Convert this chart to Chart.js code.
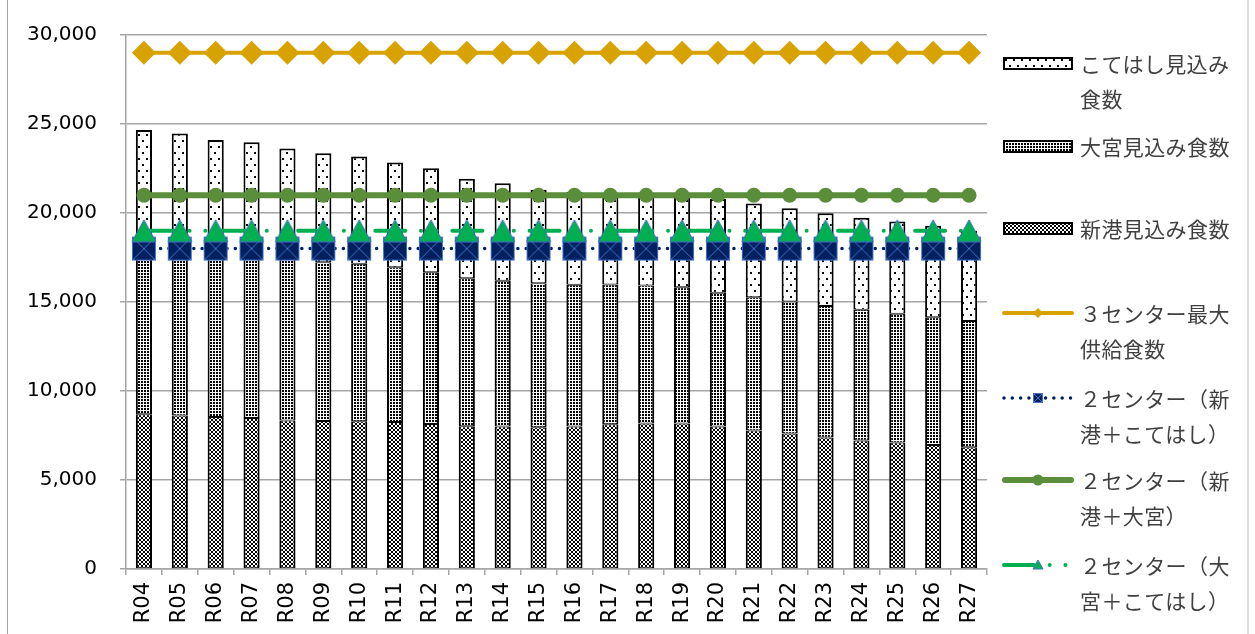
<!DOCTYPE html>
<html lang="ja">
<head>
<meta charset="utf-8">
<title>見込み食数と供給食数</title>
<script src="https://cdn.jsdelivr.net/npm/chart.js@4.4.1/dist/chart.umd.min.js"></script>
<style>
  html, body { margin: 0; padding: 0; background: #fff; }
  #wrap { position: relative; width: 1255px; height: 634px; overflow: hidden; }
  #chart { position: absolute; left: 0; top: 0; }
  .frame { position: absolute; left: 7px; top: -4px; width: 1242px; height: 644px;
           border-left: 1.5px solid #a6a6a6; border-right: 2px solid #dedede; box-sizing: border-box; pointer-events: none; }
  .lg-text { position: absolute; left: 1080px; height: 30px; line-height: 30px; font-family: "Noto Sans CJK JP", sans-serif;
             font-size: 21px; letter-spacing: 0.4px; color: #404040; white-space: nowrap; }
  .lg-swatch { position: absolute; }
</style>
</head>
<body>
<div id="wrap">
  <canvas id="chart" width="1255" height="634"></canvas>
  <div class="frame"></div>
  <div id="legend"></div>
</div>
<script>
// Fiscal years
const categories = ['R04','R05','R06','R07','R08','R09','R10','R11','R12','R13','R14','R15',
                    'R16','R17','R18','R19','R20','R21','R22','R23','R24','R25','R26','R27'];

// Expected meals per centre (stacked bars, bottom to top)
const shinkoMeals    = [8690,8620,8540,8490,8340,8320,8300,8260,8150,8020,8000,7960,
                        8000,8130,8170,8170,8000,7780,7610,7390,7220,7110,6970,6840];
const omiyaMeals     = [9110,9080,9060,9010,9060,8920,8850,8690,8520,8320,8190,8100,
                        7970,7850,7760,7660,7520,7490,7420,7380,7350,7230,7180,7090];
const kotehashiMeals = [6860,6770,6500,6470,6230,6110,6030,5890,5840,5590,5480,5250,
                        5230,5120,5070,5120,5270,5260,5230,5210,5170,5180,5140,5070];

// Maximum supply capacity of centre combinations
const supplyThreeCentres     = [29000,29000,29000,29000,29000,29000,29000,29000,29000,29000,29000,29000,
                                29000,29000,29000,29000,29000,29000,29000,29000,29000,29000,29000,29000];
const supplyShinkoKotehashi  = [18000,18000,18000,18000,18000,18000,18000,18000,18000,18000,18000,18000,
                                18000,18000,18000,18000,18000,18000,18000,18000,18000,18000,18000,18000];
const supplyShinkoOmiya      = [21000,21000,21000,21000,21000,21000,21000,21000,21000,21000,21000,21000,
                                21000,21000,21000,21000,21000,21000,21000,21000,21000,21000,21000,21000];
const supplyOmiyaKotehashi   = [19000,19000,19000,19000,19000,19000,19000,19000,19000,19000,19000,19000,
                                19000,19000,19000,19000,19000,19000,19000,19000,19000,19000,19000,19000];

const yTicks = [0, 5000, 10000, 15000, 20000, 25000, 30000];

const seriesLabels = {
  kotehashi: 'こてはし見込み食数',
  omiya: '大宮見込み食数',
  shinko: '新港見込み食数',
  three: '３センター最大供給食数',
  shinkoKotehashi: '２センター（新港＋こてはし）',
  shinkoOmiya: '２センター（新港＋大宮）',
  omiyaKotehashi: '２センター（大宮＋こてはし）'
};

const GOLD = '#d8a200', NAVY = '#002060', OLIVE = '#5b8e3b', GREEN = '#00b050', EDGE = '#4472c4';

// ---- fill patterns for the bars ----
function tile(w, h, pixels) {
  const c = document.createElement('canvas');
  c.width = w; c.height = h;
  const g = c.getContext('2d');
  g.fillStyle = '#fff'; g.fillRect(0, 0, w, h);
  g.fillStyle = '#000';
  pixels.forEach(([x, y, pw, ph]) => g.fillRect(x, y, pw || 1, ph || 1));
  return c;
}
const sparseTile = tile(8, 12, [[2, 2, 2, 2], [6, 8, 2, 2]]);
const denseTile  = tile(3, 3, [[0, 0, 2, 2]]);
const latticeTile = tile(4, 4, [[0,0],[1,1],[2,2],[3,3],[3,0],[2,1],[1,2],[0,3]]);
const patternCtx = document.createElement('canvas').getContext('2d');
const sparseFill  = patternCtx.createPattern(sparseTile, 'repeat');
const denseFill   = patternCtx.createPattern(denseTile, 'repeat');
const latticeFill = patternCtx.createPattern(latticeTile, 'repeat');

// ---- marker images ----
function squareX(size) {
  const c = document.createElement('canvas');
  c.width = size + 2; c.height = size + 2;
  const g = c.getContext('2d');
  g.fillStyle = NAVY; g.fillRect(1, 1, size, size);
  g.strokeStyle = EDGE; g.lineWidth = 1;
  g.strokeRect(1.5, 1.5, size - 1, size - 1);
  g.beginPath();
  g.moveTo(2, 2); g.lineTo(size, size);
  g.moveTo(size, 2); g.lineTo(2, size);
  g.stroke();
  return c;
}
function triangle(w, h) {
  const c = document.createElement('canvas');
  c.width = w + 2; c.height = h + 2;
  const g = c.getContext('2d');
  g.beginPath();
  g.moveTo(1 + w / 2, 1); g.lineTo(1 + w, 1 + h); g.lineTo(1, 1 + h); g.closePath();
  g.fillStyle = GREEN; g.fill();
  g.strokeStyle = EDGE; g.lineWidth = 1; g.stroke();
  return c;
}
const squareMarker = squareX(24);
const triangleMarker = triangle(24, 22);

const triDash = [30, 15.7, 0.01, 15.7, 0.01, 15.7];
const dotDash = [0.01, 8.3];

const barCommon = { type: 'bar', stack: 'meals', borderColor: '#000', borderSkipped: false,
                    barPercentage: 0.45, categoryPercentage: 1, order: 10 };

new Chart(document.getElementById('chart'), {
  data: {
    labels: categories,
    datasets: [
      Object.assign({}, barCommon, { label: seriesLabels.shinko, data: shinkoMeals, backgroundColor: latticeFill,
        borderWidth: { left: 2, right: 2, top: 1, bottom: 1 } }),
      Object.assign({}, barCommon, { label: seriesLabels.omiya, data: omiyaMeals, backgroundColor: denseFill,
        borderWidth: { left: 2, right: 2, top: 1, bottom: 1 } }),
      Object.assign({}, barCommon, { label: seriesLabels.kotehashi, data: kotehashiMeals, backgroundColor: sparseFill,
        borderWidth: { left: 2, right: 2, top: 2, bottom: 1 } }),
      { type: 'line', label: seriesLabels.three, data: supplyThreeCentres, stack: 's3', order: 3,
        borderColor: GOLD, borderWidth: 4, pointStyle: 'rectRot', pointRadius: 12,
        pointBackgroundColor: GOLD, pointBorderWidth: 0, fill: false },
      { type: 'line', label: seriesLabels.shinkoOmiya, data: supplyShinkoOmiya, stack: 's2a', order: 2,
        borderColor: OLIVE, borderWidth: 6, pointStyle: 'circle', pointRadius: 7.5,
        pointBackgroundColor: OLIVE, pointBorderWidth: 0, fill: false },
      { type: 'line', label: seriesLabels.shinkoKotehashi, data: supplyShinkoKotehashi, stack: 's2b', order: 1,
        borderColor: NAVY, borderWidth: 3.5, borderDash: dotDash, borderCapStyle: 'round',
        pointStyle: squareMarker, pointRadius: 12, fill: false },
      { type: 'line', label: seriesLabels.omiyaKotehashi, data: supplyOmiyaKotehashi, stack: 's2c', order: 0,
        borderColor: GREEN, borderWidth: 4, borderDash: triDash, borderCapStyle: 'round',
        pointStyle: triangleMarker, pointRadius: 12, fill: false }
    ]
  },
  options: {
    responsive: false,
    animation: false,
    devicePixelRatio: 1,
    layout: { padding: { left: 0, right: 268, top: 34, bottom: 0 } },
    plugins: { legend: { display: false }, tooltip: { enabled: false } },
    scales: {
      x: {
        stacked: true,
        grid: { offset: true, drawOnChartArea: false, tickLength: 6, color: '#a6a6a6', lineWidth: 1.5 },
        border: { color: '#a6a6a6', width: 1.5 },
        ticks: { font: { family: 'DejaVu Sans', size: 21 }, color: '#000', minRotation: 90, maxRotation: 90,
                 padding: 7, autoSkip: false },
        afterFit(scale) { scale.height = 65; }
      },
      y: {
        stacked: true,
        min: 0, max: 30000,
        afterBuildTicks(scale) { scale.ticks = yTicks.map(v => ({ value: v })); },
        ticks: { callback: v => v.toLocaleString('en-US'), font: { family: 'DejaVu Sans', size: 20 },
                 color: '#000', padding: 23 },
        grid: { color: '#a6a6a6', lineWidth: 1.5, tickLength: 6 },
        border: { color: '#a6a6a6', width: 1.5 },
        afterFit(scale) { scale.width = 126; }
      }
    }
  }
});

// ---- legend on the right ----
const legendItems = [
  { label: seriesLabels.kotehashi, kind: 'bar', fill: sparseFill, y: 63 },
  { label: seriesLabels.omiya, kind: 'bar', fill: denseFill, y: 146 },
  { label: seriesLabels.shinko, kind: 'bar', fill: latticeFill, y: 228 },
  { label: seriesLabels.three, kind: 'gold', y: 313 },
  { label: seriesLabels.shinkoKotehashi, kind: 'navy', y: 398 },
  { label: seriesLabels.shinkoOmiya, kind: 'olive', y: 480 },
  { label: seriesLabels.omiyaKotehashi, kind: 'tri', y: 565 }
];
const legendBox = document.getElementById('legend');
const LINE_STEP = 35, WRAP = 7;

function drawSwatch(item) {
  const c = document.createElement('canvas');
  c.className = 'lg-swatch';
  if (item.kind === 'bar') {
    c.width = 70; c.height = 13;
    c.style.left = '1003px'; c.style.top = (item.y - 6.5) + 'px';
    const g = c.getContext('2d');
    g.fillStyle = '#000'; g.fillRect(0, 0, 70, 13);
    g.fillStyle = item.fill; g.fillRect(2, 2, 66, 9);
    return c;
  }
  c.width = 74; c.height = 26;
  c.style.left = '1001px'; c.style.top = (item.y - 13) + 'px';
  const g = c.getContext('2d');
  const cy = 13, cx = 37;
  g.lineCap = 'round';
  if (item.kind === 'gold') {
    g.strokeStyle = GOLD; g.lineWidth = 4;
    g.beginPath(); g.moveTo(3, cy); g.lineTo(71, cy); g.stroke();
    g.fillStyle = GOLD; g.beginPath();
    g.moveTo(cx, cy - 5); g.lineTo(cx + 5, cy); g.lineTo(cx, cy + 5); g.lineTo(cx - 5, cy); g.closePath(); g.fill();
  } else if (item.kind === 'navy') {
    g.strokeStyle = NAVY; g.lineWidth = 3.5; g.setLineDash(dotDash);
    g.beginPath(); g.moveTo(3, cy); g.lineTo(72, cy); g.stroke();
    g.setLineDash([]);
    g.drawImage(squareX(10), cx - 6, cy - 6);
  } else if (item.kind === 'olive') {
    g.strokeStyle = OLIVE; g.lineWidth = 6;
    g.beginPath(); g.moveTo(4, cy); g.lineTo(70, cy); g.stroke();
    g.fillStyle = OLIVE; g.beginPath(); g.arc(cx, cy, 5.5, 0, Math.PI * 2); g.fill();
  } else {
    g.strokeStyle = GREEN; g.lineWidth = 4; g.setLineDash(triDash);
    g.beginPath(); g.moveTo(3, cy); g.lineTo(72, cy); g.stroke();
    g.setLineDash([]);
    g.drawImage(triangle(10, 9), cx - 6, cy - 6);
  }
  return c;
}

legendItems.forEach(item => {
  legendBox.appendChild(drawSwatch(item));
  const text = Array.from(item.label);
  for (let i = 0, line = 0; i < text.length; i += WRAP, line++) {
    const d = document.createElement('div');
    d.className = 'lg-text';
    d.textContent = text.slice(i, i + WRAP).join('');
    d.style.top = (item.y + line * LINE_STEP - 15) + 'px';
    legendBox.appendChild(d);
  }
});
</script>
</body>
</html>
